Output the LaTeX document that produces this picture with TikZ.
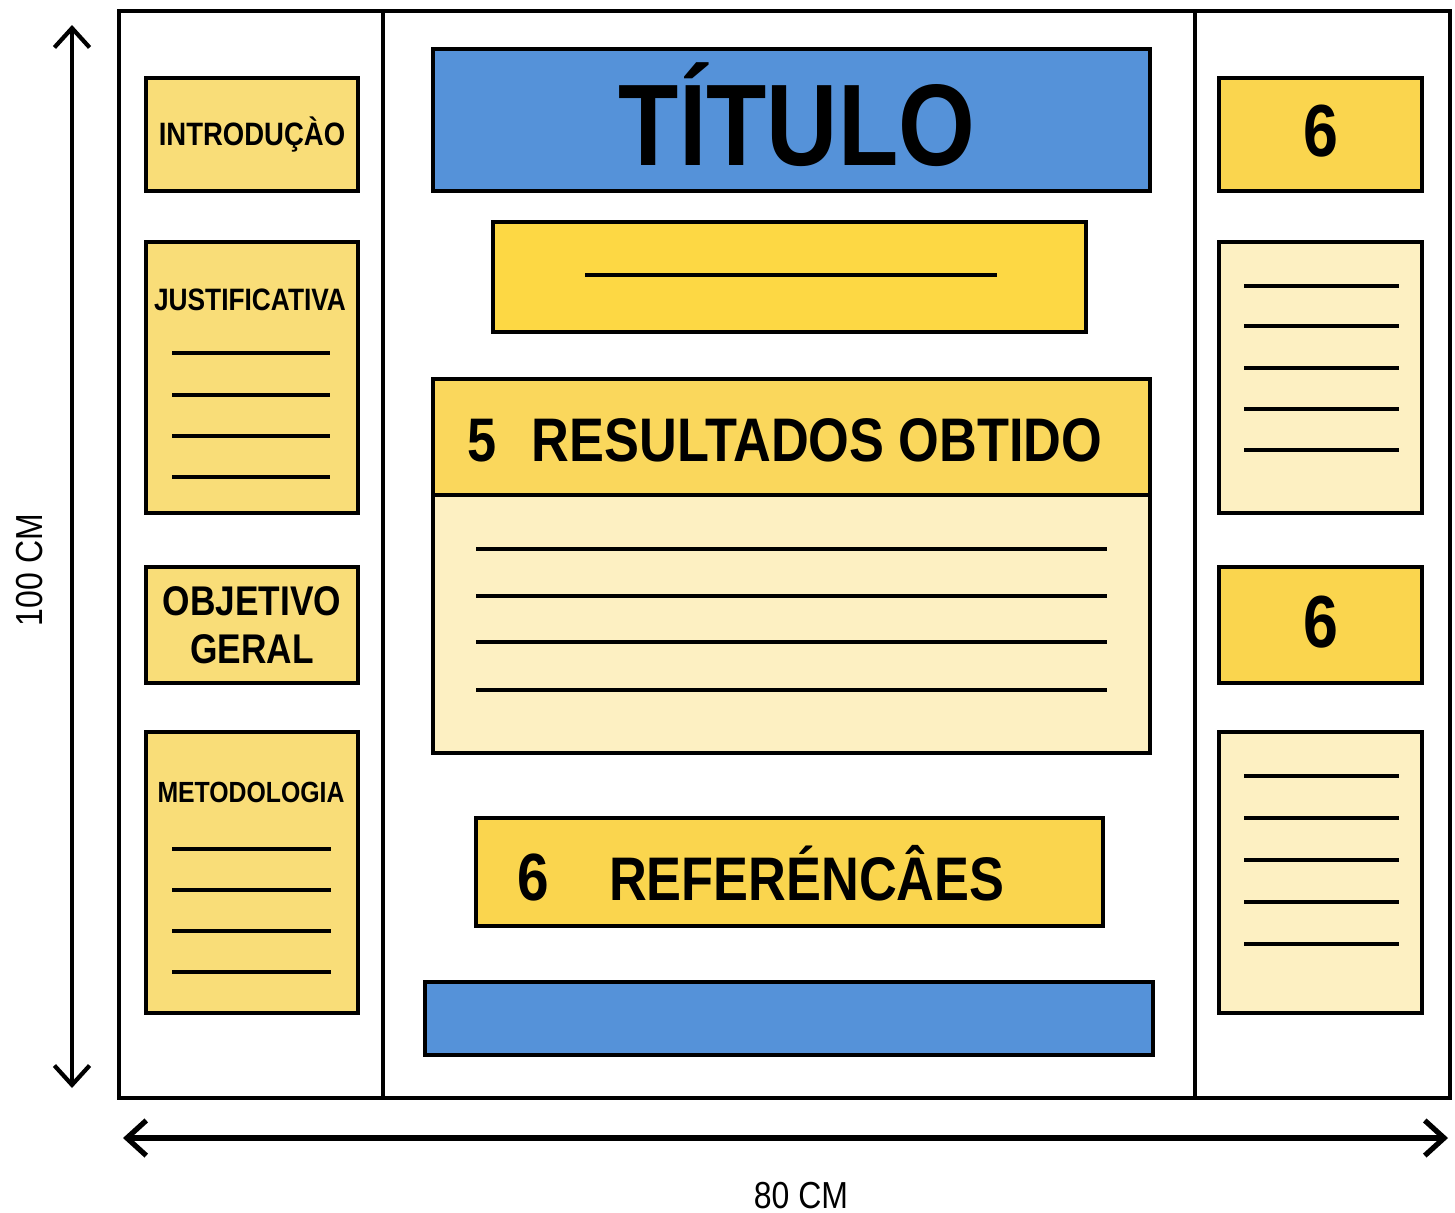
\documentclass[tikz,border=0pt]{standalone}
\usepackage{fontspec}
\setmainfont{Liberation Sans}
\newfontfamily\condfont[FakeStretch=0.85]{Liberation Sans}
\usetikzlibrary{arrows.meta}

\definecolor{posterblue}{HTML}{5592D9}
\definecolor{subyellow}{HTML}{FDD844}
\definecolor{sideyellow}{HTML}{F9DD78}
\definecolor{headyellow}{HTML}{FAD75C}
\definecolor{numyellow}{HTML}{FAD54E}
\definecolor{paleyellow}{HTML}{FDF0C2}

\tikzset{
  column/.style={draw=black, line width=1.2pt, inner sep=0pt, fill=white},
  panel/.style={draw=black, line width=1.2pt, inner sep=0pt},
  rule/.style={line width=0.9pt},
  heading/.style={font=\condfont\bfseries\fontsize{#1}{#1}\selectfont, inner sep=0pt},
  dimtext/.style={font=\condfont\fontsize{10.7}{11}\selectfont, inner sep=0pt},
  dimarrow/.style={line width=1.2pt, {Straight Barb[length=5.5pt,width=10pt]}-{Straight Barb[length=5.5pt,width=10pt]}}
}

\begin{document}
\begin{tikzpicture}[x=0.01cm, y=-0.01cm]
  \useasboundingbox (0,0) rectangle (1455,1212);

  % Board columns
  \node[column, minimum width=2.64cm, minimum height=10.87cm] (leftcol) at (251,554.5) {};
  \node[column, minimum width=8.12cm, minimum height=10.87cm] (midcol) at (789,554.5) {};
  \node[column, minimum width=2.55cm, minimum height=10.87cm] (rightcol) at (1322.5,554.5) {};

  % Left column
  \node[panel, fill=sideyellow, minimum width=2.12cm, minimum height=1.13cm] (intro) at (252,134.5) {};
  \node[heading=9.2] (introtxt) at (intro.center) {INTRODUÇÀO};

  \node[panel, fill=sideyellow, minimum width=2.12cm, minimum height=2.71cm] (justif) at (252,377.5) {};
  \node[heading=8.8] (justiftxt) at (250,300) {JUSTIFICATIVA};
  \foreach \y in {353,395,436,477}
    \draw[rule] (172,\y) -- (330,\y);

  \node[panel, fill=sideyellow, minimum width=2.12cm, minimum height=1.16cm] (objetivo) at (252,625) {};
  \node[font=\condfont\bfseries\fontsize{11.8}{13.7}\selectfont, align=center, inner sep=0pt] (objetivotxt) at (objetivo.center) {OBJETIVO\\GERAL};

  \node[panel, fill=sideyellow, minimum width=2.12cm, minimum height=2.81cm] (metodo) at (252,872.5) {};
  \node[heading=8.3] (metodotxt) at (251,792) {METODOLOGIA};
  \foreach \y in {849,890,931,972}
    \draw[rule] (172,\y) -- (331,\y);

  % Middle column
  \node[panel, fill=posterblue, minimum width=7.17cm, minimum height=1.42cm] (titulo) at (791.5,120) {};
  \node[heading=33] (titulotxt) at (797,115) {TÍTULO};

  \node[panel, fill=subyellow, minimum width=5.93cm, minimum height=1.10cm] (subtitulo) at (789.5,277) {};
  \draw[rule] (585,275) -- (997,275);

  \node[panel, fill=paleyellow, minimum width=7.17cm, minimum height=2.58cm] (resbody) at (791.5,624) {};
  \node[panel, fill=headyellow, minimum width=7.17cm, minimum height=1.16cm] (reshead) at (791.5,437) {};
  \node[heading=17.5] (reshtxt) at (785,440) {5\hspace{10pt}RESULTADOS OBTIDO};
  \foreach \y in {549,596,642,690}
    \draw[rule] (476,\y) -- (1107,\y);

  \node[panel, fill=numyellow, minimum width=6.27cm, minimum height=1.08cm] (refs) at (789.5,872) {};
  \node[heading=17.5, anchor=west] (refstxt) at (517,873) {{\fontsize{19}{19}\selectfont 6}\hspace{17pt}REFERÉNCÂES};

  \node[panel, fill=posterblue, minimum width=7.28cm, minimum height=0.73cm] (rodape) at (789,1018.5) {};

  % Right column
  \node[panel, fill=numyellow, minimum width=2.03cm, minimum height=1.13cm] (numa) at (1320.5,134.5) {};
  \node[heading=21] (numatxt) at (1320.5,131) {6};

  \node[panel, fill=paleyellow, minimum width=2.03cm, minimum height=2.71cm] (notasa) at (1320.5,377.5) {};
  \foreach \y in {286,326,368,409,450}
    \draw[rule] (1244,\y) -- (1399,\y);

  \node[panel, fill=numyellow, minimum width=2.03cm, minimum height=1.16cm] (numb) at (1320.5,625) {};
  \node[heading=21] (numbtxt) at (1320.5,622) {6};

  \node[panel, fill=paleyellow, minimum width=2.03cm, minimum height=2.81cm] (notasb) at (1320.5,872.5) {};
  \foreach \y in {776,818,860,902,944}
    \draw[rule] (1244,\y) -- (1399,\y);

  % Dimensions
  \coordinate (vtop) at (72,25);
  \coordinate (vbot) at (72,1088);
  \draw[dimarrow] (vtop) -- (vbot);
  \node[dimtext, rotate=90] (altura) at (30,570) {100 CM};

  \coordinate (hleft) at (123,1138);
  \coordinate (hright) at (1448,1138);
  \draw[dimarrow, line width=1.5pt] (hleft) -- (hright);
  \node[dimtext] (largura) at (801,1196) {80 CM};
\end{tikzpicture}
\end{document}
